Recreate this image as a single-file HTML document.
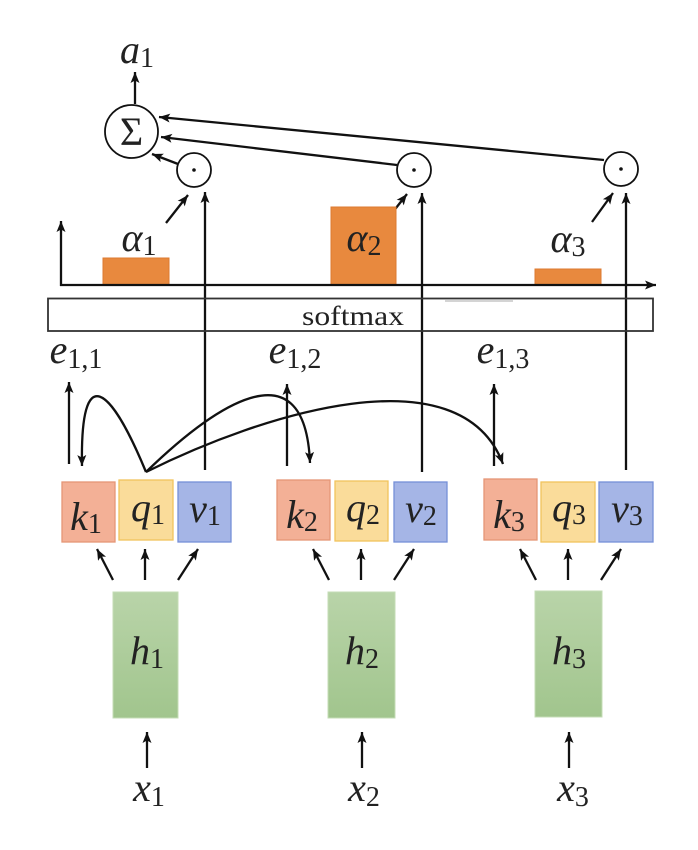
<!DOCTYPE html>
<html>
<head>
<meta charset="utf-8">
<style>
html,body{margin:0;padding:0;background:#fff;}
svg{display:block;}
text{font-family:"Liberation Serif","DejaVu Serif",serif;fill:#222;}
.v{font-style:italic;font-size:40px;}
.s{font-size:28px;font-style:normal;}
</style>
</head>
<body>
<svg width="698" height="850" viewBox="0 0 698 850" xmlns="http://www.w3.org/2000/svg">
<defs>
<marker id="ah" markerUnits="userSpaceOnUse" markerWidth="12" markerHeight="10" refX="11" refY="5" orient="auto">
<path d="M0,0.5 L11,5 L0,9.5 L2.5,5 z" fill="#111"/>
</marker>
<linearGradient id="gh" x1="0" y1="0" x2="0" y2="1">
<stop offset="0" stop-color="#b9d4a9"/>
<stop offset="1" stop-color="#a1c58d"/>
</linearGradient>
</defs>

<g stroke="#111" stroke-width="2.3" fill="none">
<line x1="135" y1="104" x2="135" y2="72" marker-end="url(#ah)"/>
<circle cx="131.5" cy="131.5" r="26.5" stroke-width="1.8"/>
<circle cx="194" cy="170" r="17" stroke-width="1.8"/>
<circle cx="414" cy="170" r="17" stroke-width="1.8"/>
<circle cx="621" cy="169" r="17" stroke-width="1.8"/>
<line x1="178" y1="164" x2="152" y2="154" marker-end="url(#ah)"/>
<line x1="397" y1="165" x2="161" y2="137" marker-end="url(#ah)"/>
<line x1="604" y1="160" x2="159" y2="117" marker-end="url(#ah)"/>
<line x1="166" y1="223" x2="188" y2="195" marker-end="url(#ah)"/>
<line x1="385" y1="222" x2="407" y2="194" marker-end="url(#ah)"/>
<line x1="592" y1="222" x2="613" y2="193" marker-end="url(#ah)"/>
</g>

<rect x="103" y="258" width="66" height="27" fill="#e8893e" stroke="#dc7a30" stroke-width="1"/>
<rect x="331" y="207" width="65" height="78" fill="#e8893e" stroke="#dc7a30" stroke-width="1"/>
<rect x="535" y="269" width="66" height="16" fill="#e8893e" stroke="#dc7a30" stroke-width="1"/>

<g stroke="#111" stroke-width="2.3" fill="none">
<line x1="61" y1="286" x2="61" y2="221" marker-end="url(#ah)"/>
<line x1="60" y1="285" x2="656" y2="285" marker-end="url(#ah)"/>
<line x1="205" y1="470" x2="205" y2="192" marker-end="url(#ah)"/>
<line x1="422" y1="472" x2="422" y2="193" marker-end="url(#ah)"/>
<line x1="626" y1="470" x2="626" y2="193" marker-end="url(#ah)"/>
</g>

<rect x="48" y="298.5" width="605" height="32.5" fill="none" stroke="#333" stroke-width="1.8"/>
<line x1="445" y1="301" x2="513" y2="301" stroke="#bbb" stroke-width="1.2"/>
<text x="353" y="325" font-size="27" text-anchor="middle" textLength="102" lengthAdjust="spacingAndGlyphs">softmax</text>

<g stroke="#111" stroke-width="2.3" fill="none">
<line x1="69" y1="464" x2="69" y2="382" marker-end="url(#ah)"/>
<line x1="287" y1="466" x2="287" y2="384" marker-end="url(#ah)"/>
<line x1="494" y1="466" x2="494" y2="384" marker-end="url(#ah)"/>
<path d="M146,472 C110,385 80,360 82,466" marker-end="url(#ah)"/>
<path d="M146,472 C210,410 305,340 310,463" marker-end="url(#ah)"/>
<path d="M146,472 C260,415 460,350 503,464" marker-end="url(#ah)"/>
</g>

<g stroke-width="1.3">
<rect x="62" y="482" width="53" height="60" fill="#f3b096" stroke="#e59676"/>
<rect x="119" y="480" width="54" height="60" fill="#fadc9a" stroke="#f2c45c"/>
<rect x="178" y="482" width="53" height="60" fill="#a5b5e6" stroke="#7590d8"/>
<rect x="277" y="480" width="53" height="60" fill="#f3b096" stroke="#e59676"/>
<rect x="335" y="481" width="53" height="60" fill="#fadc9a" stroke="#f2c45c"/>
<rect x="394" y="482" width="53" height="60" fill="#a5b5e6" stroke="#7590d8"/>
<rect x="484" y="479" width="53" height="61" fill="#f3b096" stroke="#e59676"/>
<rect x="541" y="482" width="54" height="60" fill="#fadc9a" stroke="#f2c45c"/>
<rect x="599" y="482" width="54" height="60" fill="#a5b5e6" stroke="#7590d8"/>
</g>

<g stroke="#111" stroke-width="2.3" fill="none">
<line x1="113" y1="580" x2="97" y2="549" marker-end="url(#ah)"/>
<line x1="145" y1="580" x2="145" y2="549" marker-end="url(#ah)"/>
<line x1="178" y1="580" x2="198" y2="549" marker-end="url(#ah)"/>
<line x1="329" y1="580" x2="313" y2="549" marker-end="url(#ah)"/>
<line x1="361" y1="580" x2="361" y2="549" marker-end="url(#ah)"/>
<line x1="394" y1="580" x2="414" y2="549" marker-end="url(#ah)"/>
<line x1="536" y1="580" x2="520" y2="549" marker-end="url(#ah)"/>
<line x1="568" y1="580" x2="568" y2="549" marker-end="url(#ah)"/>
<line x1="601" y1="580" x2="621" y2="549" marker-end="url(#ah)"/>
<line x1="147" y1="768" x2="147" y2="732" marker-end="url(#ah)"/>
<line x1="362" y1="768" x2="362" y2="732" marker-end="url(#ah)"/>
<line x1="569" y1="768" x2="569" y2="732" marker-end="url(#ah)"/>
</g>

<rect x="113" y="592" width="65" height="126" fill="url(#gh)" stroke="#c4dcb6" stroke-width="1"/>
<rect x="328" y="592" width="67" height="126" fill="url(#gh)" stroke="#c4dcb6" stroke-width="1"/>
<rect x="535" y="591" width="67" height="126" fill="url(#gh)" stroke="#c4dcb6" stroke-width="1"/>

<circle cx="194" cy="170" r="1.8" fill="#111"/>
<circle cx="414" cy="170" r="1.8" fill="#111"/>
<circle cx="621" cy="169" r="1.8" fill="#111"/>

<text x="137" y="63" text-anchor="middle"><tspan class="v">a</tspan><tspan class="s" dy="4">1</tspan></text>
<text x="131.5" y="145" text-anchor="middle" font-size="40">Σ</text>

<text x="139" y="251" text-anchor="middle"><tspan class="v">α</tspan><tspan class="s" dy="4">1</tspan></text>
<text x="364" y="251" text-anchor="middle"><tspan class="v">α</tspan><tspan class="s" dy="4">2</tspan></text>
<text x="568" y="252" text-anchor="middle"><tspan class="v">α</tspan><tspan class="s" dy="4">3</tspan></text>

<text x="76" y="363" text-anchor="middle"><tspan class="v">e</tspan><tspan class="s" dy="5">1,1</tspan></text>
<text x="295" y="363" text-anchor="middle"><tspan class="v">e</tspan><tspan class="s" dy="5">1,2</tspan></text>
<text x="503" y="363" text-anchor="middle"><tspan class="v">e</tspan><tspan class="s" dy="5">1,3</tspan></text>

<text x="86" y="530" text-anchor="middle"><tspan class="v">k</tspan><tspan class="s" dy="3">1</tspan></text>
<text x="148" y="521" text-anchor="middle"><tspan class="v">q</tspan><tspan class="s" dy="3">1</tspan></text>
<text x="205" y="522" text-anchor="middle"><tspan class="v">v</tspan><tspan class="s" dy="3">1</tspan></text>

<text x="302" y="528" text-anchor="middle"><tspan class="v">k</tspan><tspan class="s" dy="3">2</tspan></text>
<text x="363" y="521" text-anchor="middle"><tspan class="v">q</tspan><tspan class="s" dy="3">2</tspan></text>
<text x="421" y="522" text-anchor="middle"><tspan class="v">v</tspan><tspan class="s" dy="3">2</tspan></text>

<text x="509" y="528" text-anchor="middle"><tspan class="v">k</tspan><tspan class="s" dy="3">3</tspan></text>
<text x="569" y="521" text-anchor="middle"><tspan class="v">q</tspan><tspan class="s" dy="3">3</tspan></text>
<text x="627" y="522" text-anchor="middle"><tspan class="v">v</tspan><tspan class="s" dy="3">3</tspan></text>

<text x="147" y="664" text-anchor="middle"><tspan class="v">h</tspan><tspan class="s" dy="4">1</tspan></text>
<text x="362" y="664" text-anchor="middle"><tspan class="v">h</tspan><tspan class="s" dy="4">2</tspan></text>
<text x="569" y="664" text-anchor="middle"><tspan class="v">h</tspan><tspan class="s" dy="4">3</tspan></text>

<text x="149" y="801" text-anchor="middle"><tspan class="v">x</tspan><tspan class="s" dy="5">1</tspan></text>
<text x="364" y="801" text-anchor="middle"><tspan class="v">x</tspan><tspan class="s" dy="5">2</tspan></text>
<text x="573" y="801" text-anchor="middle"><tspan class="v">x</tspan><tspan class="s" dy="5">3</tspan></text>
</svg>
</body>
</html>
